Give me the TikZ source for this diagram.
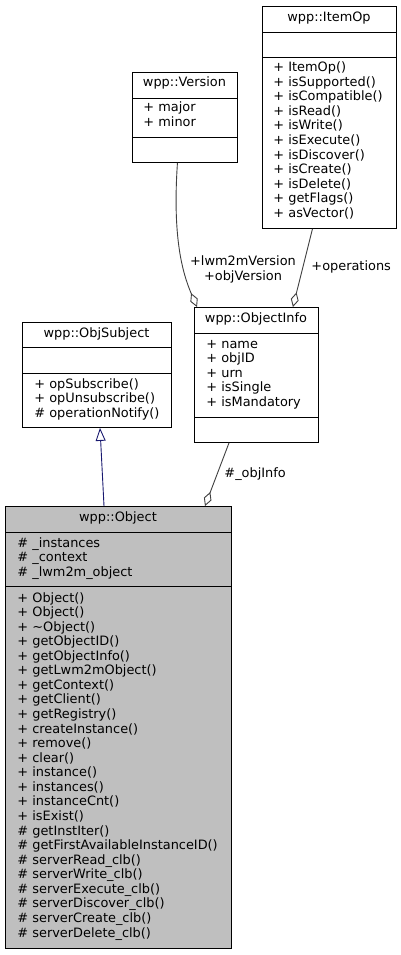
\documentclass[tikz,border=0pt]{standalone}
\usepackage{fontspec}
\setmainfont{DejaVu Sans}
\usetikzlibrary{arrows.meta}

\begin{document}
\begin{tikzpicture}[x=1pt,y=-1pt,line width=0.9pt,
  cls/.style={draw,anchor=north west,inner sep=0pt,fill=white},
  txt/.style={inner sep=0pt,anchor=base west,font=\fontsize{12.9}{14}\selectfont},
  ttl/.style={txt,anchor=base},
  rel/.style={draw=black!75,-{Diamond[open,fill=white,length=15pt,width=8pt]}}]
  \useasboundingbox[fill=white] (0,0) rectangle (401,955);

  \node[cls,minimum width=134,minimum height=222] (itemop) at (262,6) {};
  \draw (itemop.north west) ++(0,26) -- ++(134,0) ++(0,25) -- ++(-134,0);
  \node[ttl] (itemopt) at (329,22) {wpp::ItemOp};
  \foreach \m [count=\i] in {ItemOp(),isSupported(),isCompatible(),isRead(),isWrite(),
      isExecute(),isDiscover(),isCreate(),isDelete(),getFlags(),asVector()}
    \node[txt] (itemopm\i) at (273,{72+(\i-1)*14.5}) {+ \m};

  \node[cls,minimum width=105,minimum height=90] (ver) at (132,72) {};
  \draw (ver.north west) ++(0,26) -- ++(105,0) ++(0,39) -- ++(-105,0);
  \node[ttl] (vert) at (184.5,87) {wpp::Version};
  \node[txt] (vera1) at (143,112) {+ major};
  \node[txt] (vera2) at (143,126.5) {+ minor};

  \node[cls,minimum width=124,minimum height=135] (oinfo) at (194,307) {};
  \draw (oinfo.north west) ++(0,26) -- ++(124,0) ++(0,84) -- ++(-124,0);
  \node[ttl] (oinfot) at (256,322) {wpp::ObjectInfo};
  \foreach \a [count=\i] in {name,objID,urn,isSingle,isMandatory}
    \node[txt] (oinfoa\i) at (206,{348+(\i-1)*14.5}) {+ \a};

  \node[cls,minimum width=149,minimum height=105] (osub) at (22,322) {};
  \draw (osub.north west) ++(0,25) -- ++(149,0) ++(0,26) -- ++(-149,0);
  \node[ttl] (osubt) at (96.5,337) {wpp::ObjSubject};
  \node[txt] (osubm1) at (34,388) {+ opSubscribe()};
  \node[txt] (osubm2) at (34,402.5) {+ opUnsubscribe()};
  \node[txt] (osubm3) at (34,417) {\# operationNotify()};

  \node[cls,fill=black!25,minimum width=226,minimum height=442] (obj) at (5,506) {};
  \draw (obj.north west) ++(0,26) -- ++(226,0) ++(0,54) -- ++(-226,0);
  \node[ttl] (objt) at (118,521) {wpp::Object};
  \foreach \a [count=\i] in {\_instances,\_context,\_lwm2m\_object}
    \node[txt] (obja\i) at (17,{547+(\i-1)*14.5}) {\# \a};
  \foreach \m [count=\i] in {+ Object(),+ Object(),+ \textasciitilde Object(),+ getObjectID(),
      + getObjectInfo(),+ getLwm2mObject(),+ getContext(),+ getClient(),+ getRegistry(),
      + createInstance(),+ remove(),+ clear(),+ instance(),+ instances(),+ instanceCnt(),
      + isExist(),\# getInstIter(),\# getFirstAvailableInstanceID(),\# serverRead\_clb(),
      \# serverWrite\_clb(),\# serverExecute\_clb(),\# serverDiscover\_clb(),
      \# serverCreate\_clb(),\# serverDelete\_clb()}
    \node[txt] (objm\i) at (17,{602+(\i-1)*14.57}) {\m};

  \draw[rel] ([xshift=-7.5pt]ver.south) .. controls +(-5,73) and +(-15,-35) .. ([xshift=3pt]oinfo.north west);
  \draw[rel] ([xshift=-17pt]itemop.south) -- ([xshift=-26pt]oinfo.north east);
  \draw[rel] ([xshift=35pt]oinfo.south west) -- ([xshift=200pt]obj.north west);
  \draw[draw={rgb,255:red,25;green,25;blue,112},-{Triangle[open,fill=white,length=13pt,width=10pt]}]
    ([xshift=99pt]obj.north west) -- ([xshift=78pt]osub.south west);

  \node[ttl] (lvera) at (243,265) {+lwm2mVersion};
  \node[ttl] (lverb) at (243,280) {+objVersion};
  \node[txt] (lops) at (311,270) {+operations};
  \node[txt] (linfo) at (224,477) {\#\_objInfo};
\end{tikzpicture}
\end{document}
